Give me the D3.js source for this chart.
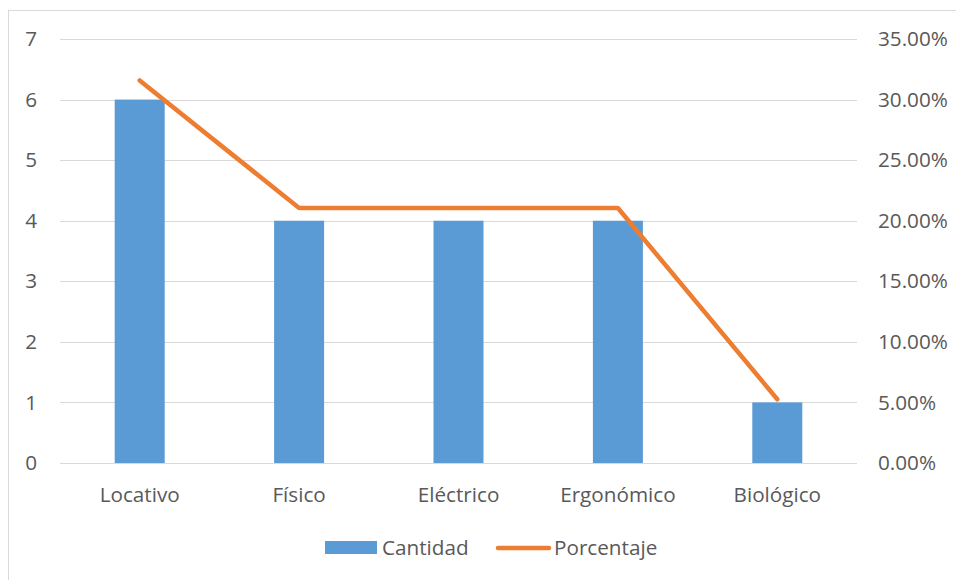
<!DOCTYPE html>
<html>
<head>
<meta charset="utf-8">
<script src="https://cdn.jsdelivr.net/npm/d3@7"></script>
<style>
  html, body { margin: 0; padding: 0; background: #fff; }
  svg { display: block; }
  text { font-family: "Open Sans", sans-serif; fill: #595959; }
</style>
</head>
<body>
<svg id="chart" width="956" height="580"></svg>
<script>
// Riesgos identificados: cantidad y porcentaje
const categories = ["Locativo", "Físico", "Eléctrico", "Ergonómico", "Biológico"];
const cantidad = [6, 4, 4, 4, 1];
const porcentaje = [0.3158, 0.2105, 0.2105, 0.2105, 0.0526];
const leftTicks = [0, 1, 2, 3, 4, 5, 6, 7];
const rightTicks = [0, 0.05, 0.10, 0.15, 0.20, 0.25, 0.30, 0.35];

const svg = d3.select("#chart");
const W = 956, H = 580;
const plot = { left: 60, right: 857, top: 39, bottom: 463 };
const FS = 20.7;

// chart frame
svg.append("rect")
  .attr("x", 8.5).attr("y", 10.5)
  .attr("width", W + 10).attr("height", H + 10)
  .attr("fill", "#fff").attr("stroke", "#d9d9d9").attr("stroke-width", 1);

const x = d3.scaleBand().domain(categories).range([plot.left, plot.right]).paddingInner(0).paddingOuter(0);
const yL = d3.scaleLinear().domain([0, 7]).range([plot.bottom, plot.top]);
const yR = d3.scaleLinear().domain([0, 0.35]).range([plot.bottom, plot.top]);

// gridlines
svg.append("g").selectAll("line").data(leftTicks).join("line")
  .attr("x1", plot.left).attr("x2", plot.right)
  .attr("y1", d => Math.round(yL(d)) + 0.5).attr("y2", d => Math.round(yL(d)) + 0.5)
  .attr("stroke", "#d9d9d9").attr("stroke-width", 1);

function styleText(g) {
  g.select(".domain").remove();
  g.selectAll("text").attr("font-size", FS).attr("fill", "#595959").attr("font-family", "Open Sans, sans-serif");
}

// left axis
const axL = d3.axisLeft(yL).tickValues(leftTicks).tickSize(0).tickPadding(0).tickFormat(d3.format("d"));
svg.append("g").attr("transform", `translate(37,0)`).call(axL).call(styleText);

// right axis
const axR = d3.axisRight(yR).tickValues(rightTicks).tickSize(0).tickPadding(0).tickFormat(d => (d * 100).toFixed(2) + "%");
svg.append("g").attr("transform", `translate(878,0)`).call(axR).call(styleText);

// bars
const barW = 50;
svg.append("g").selectAll("rect").data(categories).join("rect")
  .attr("x", d => x(d) + x.bandwidth() / 2 - barW / 2)
  .attr("width", barW)
  .attr("y", (d, i) => yL(cantidad[i]))
  .attr("height", (d, i) => yL(0) - yL(cantidad[i]))
  .attr("fill", "#5b9bd5");

// percentage line
const line = d3.line()
  .x((d, i) => x(categories[i]) + x.bandwidth() / 2)
  .y(d => yR(d));
svg.append("path").datum(porcentaje)
  .attr("d", line)
  .attr("fill", "none").attr("stroke", "#ed7d31")
  .attr("stroke-width", 4.5).attr("stroke-linejoin", "round").attr("stroke-linecap", "round");

// category axis
const axB = d3.axisBottom(x).tickSize(0).tickPadding(0);
svg.append("g").attr("transform", `translate(0,${plot.bottom + 39})`).call(axB).call(styleText)
  .selectAll("text").attr("dy", 0);

// legend
const lg = svg.append("g");
lg.append("rect").attr("x", 325).attr("y", 541).attr("width", 52).attr("height", 13).attr("fill", "#5b9bd5");
lg.append("text").attr("x", 382).attr("y", 555).attr("font-size", FS).text("Cantidad");
lg.append("line").attr("x1", 498).attr("x2", 549).attr("y1", 548).attr("y2", 548)
  .attr("stroke", "#ed7d31").attr("stroke-width", 4.5).attr("stroke-linecap", "round");
lg.append("text").attr("x", 554).attr("y", 555).attr("font-size", FS).text("Porcentaje");
</script>
</body>
</html>
